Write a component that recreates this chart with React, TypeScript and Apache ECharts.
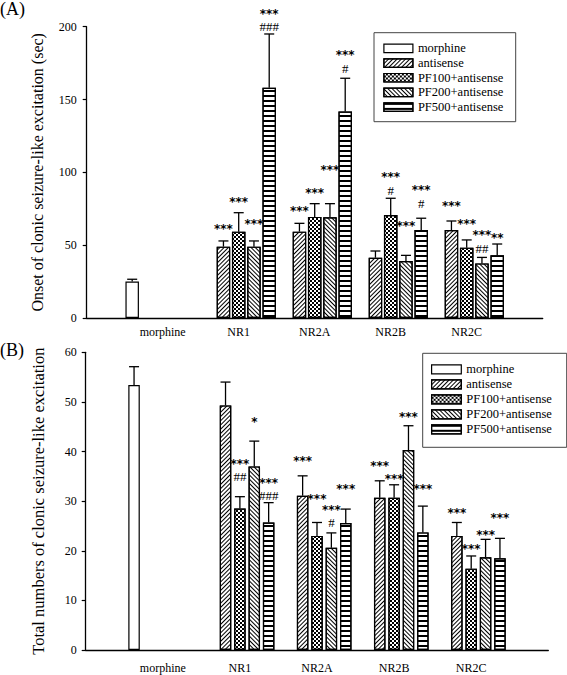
import React, { useEffect, useRef } from 'react';
import * as echarts from 'echarts';

// ---------- data ----------
const groups = ['morphine', 'NR1', 'NR2A', 'NR2B', 'NR2C'];
const seriesNames = ['morphine', 'antisense', 'PF100+antisense', 'PF200+antisense', 'PF500+antisense'];

// Panel A: onset of clonic seizure-like excitation (sec)
const onsetTicks = [0, 50, 100, 150, 200];
const onsetMorphine = [25.0, null, null, null, null];
const onsetAntisense = [null, 49.0, 59.3, 41.4, 60.4];
const onsetPF100 = [null, 59.3, 69.4, 70.7, 48.3];
const onsetPF200 = [null, 49.0, 69.2, 39.1, 37.5];
const onsetPF500 = [null, 158.1, 141.7, 60.4, 43.0];
const onsetErrMorphine = [1.6, null, null, null, null];
const onsetErrAntisense = [null, 3.9, 5.7, 4.6, 6.2];
const onsetErrPF100 = [null, 13.0, 9.1, 11.5, 5.3];
const onsetErrPF200 = [null, 3.9, 9.3, 3.9, 4.1];
const onsetErrPF500 = [null, 36.9, 22.9, 8.1, 7.8];
const onsetSigMorphine = ['', '', '', '', ''];
const onsetSigAntisense = ['', '***', '***', '', '***'];
const onsetSigPF100 = ['', '***', '***', '***\n#', '***'];
const onsetSigPF200 = ['', '***', '***', '***', '***\n##'];
const onsetSigPF500 = ['', '***\n###', '***\n#', '***\n#', '**'];

// Panel B: total numbers of clonic seizure-like excitation
const countTicks = [0, 10, 20, 30, 40, 50, 60];
const countMorphine = [53.4, null, null, null, null];
const countAntisense = [null, 49.3, 31.1, 30.7, 23.0];
const countPF100 = [null, 28.5, 23.0, 30.7, 16.4];
const countPF200 = [null, 37.0, 20.6, 40.3, 18.7];
const countPF500 = [null, 25.7, 25.6, 23.7, 18.5];
const countErrMorphine = [3.7, null, null, null, null];
const countErrAntisense = [null, 4.7, 4.0, 3.4, 2.7];
const countErrPF100 = [null, 2.4, 2.7, 2.6, 2.55];
const countErrPF200 = [null, 5.1, 3.0, 4.9, 3.6];
const countErrPF500 = [null, 4.0, 2.8, 5.3, 4.0];
const countSigMorphine = ['', '', '', '', ''];
const countSigAntisense = ['', '', '***', '***', '***'];
const countSigPF100 = ['', '***\n##', '***', '***', '***'];
const countSigPF200 = ['', '*', '***\n#', '***', '***'];
const countSigPF500 = ['', '***\n###', '***', '***', '***'];

// ---------- layout / styles ----------
// pixel lift of each significance label above its error-bar cap (layout only)
const onsetSigLift = [
  [0, 0, 0, 0, 0],
  [0, 14, 14, 0, 17],
  [0, 13, 13, 8, 18],
  [0, 19, 36, 31, 9],
  [0, 7, 10, 15, 8],
];
const countSigLift = [
  [0, 0, 0, 0, 0],
  [0, 0, 17, 17, 11],
  [0, 20, 25, 8, 9],
  [0, 21, 10, 11, 6],
  [0, 7, 22, 19, 22],
];

const SERIF = 'Liberation Serif';
const decals: any[] = [
  null,
  { symbol: 'rect', symbolSize: 1, dashArrayX: [1, 0], dashArrayY: [1, 1.6], rotation: -Math.PI / 4, color: '#000', backgroundColor: '#fff' },
  { symbol: 'rect', symbolSize: 1, dashArrayX: [[1.6, 1.6], [0, 1.6, 1.6, 0]], dashArrayY: [1.6, 0], color: '#000', backgroundColor: '#fff' },
  { symbol: 'rect', symbolSize: 1, dashArrayX: [1, 0], dashArrayY: [1, 1.6], rotation: Math.PI / 4, color: '#000', backgroundColor: '#fff' },
  { symbol: 'rect', symbolSize: 1, dashArrayX: [1, 0], dashArrayY: [1.2, 2.2], rotation: 0, color: '#000', backgroundColor: '#fff' },
];

const xCats = ['', ...groups, ''];

function padded(arr: (number | null)[]) {
  return [null, ...arr, null];
}

function buildPanel(
  idx: number,
  means: (number | null)[][],
  errs: (number | null)[][],
  sigs: string[][],
  lifts: number[][],
  barWidth: number,
  barGap: number,
) {
  const pitch = barWidth * (1 + barGap);
  const bars = means.map((m, k) => ({
    type: 'bar',
    name: seriesNames[k],
    xAxisIndex: idx,
    yAxisIndex: idx,
    data: padded(m),
    barWidth,
    barGap: `${barGap * 100}%`,
    itemStyle: {
      color: '#fff',
      borderColor: '#000',
      borderWidth: 1.2,
      ...(decals[k] ? { decal: decals[k] } : {}),
    },
    z: 2,
  }));
  const rows: number[][] = [];
  const labels: string[] = [];
  const liftList: number[] = [];
  means.forEach((m, k) => {
    m.forEach((v, g) => {
      if (v == null) return;
      rows.push([g + 1, k, v, errs[k][g] as number]);
      labels.push(sigs[k][g]);
      liftList.push(lifts[k][g]);
    });
  });
  const custom = {
    type: 'custom',
    name: 'err' + idx,
    xAxisIndex: idx,
    yAxisIndex: idx,
    encode: { x: 0, y: 2 },
    data: rows,
    z: 5,
    renderItem: (params: any, api: any) => {
      const cat = api.value(0);
      const slot = api.value(1);
      const v = api.value(2);
      const e = api.value(3);
      const p0 = api.coord([cat, v]);
      const p1 = api.coord([cat, v + e]);
      const x = p0[0] + (slot - 2) * pitch;
      const children: any[] = [
        { type: 'line', shape: { x1: x, y1: p0[1], x2: x, y2: p1[1] }, style: { stroke: '#000', lineWidth: 1.3 } },
        { type: 'line', shape: { x1: x - 5, y1: p1[1], x2: x + 5, y2: p1[1] }, style: { stroke: '#000', lineWidth: 1.3 } },
      ];
      const lines = (labels[params.dataIndex] || '').split('\n').filter((s) => s.length > 0);
      let y = p1[1] - liftList[params.dataIndex];
      for (let i = lines.length - 1; i >= 0; i--) {
        const t = lines[i];
        const star = t.indexOf('*') >= 0;
        children.push({
          type: 'text',
          x,
          y: star ? y + 2 : y,
          style: {
            text: t,
            fill: '#000',
            align: 'center',
            verticalAlign: 'middle',
            fontSize: star ? 12 : 13,
            fontWeight: star ? 'bold' : 'normal',
            fontFamily: star ? 'DejaVu Sans' : SERIF,
          },
        });
        y -= 15;
      }
      return { type: 'group', children };
    },
  };
  return [...bars, custom];
}

export default function App() {
  const ref = useRef<HTMLDivElement>(null);
  useEffect(() => {
    document.body.style.margin = '0';
    const chart = echarts.init(ref.current!, null, { renderer: 'svg' });
    const axisLine = { show: true, lineStyle: { color: '#000', width: 1.3 } };
    const legendBase = {
      data: seriesNames,
      orient: 'vertical',
      padding: 0,
      itemGap: 0,
      icon: 'rect',
      selectedMode: false,
      itemStyle: { borderColor: '#000', borderWidth: 1.2 },
    };
    const option: any = {
      animation: false,
      backgroundColor: '#fff',
      grid: [
        { left: 86.7, top: 26.7, width: 456, height: 291.3 },
        { left: 85.7, top: 352.3, width: 462.6, height: 297.7 },
      ],
      xAxis: [0, 1].map((i) => ({
        type: 'category',
        gridIndex: i,
        data: xCats,
        boundaryGap: false,
        axisLine,
        axisTick: { show: false },
        axisLabel: { interval: 0, color: '#000', fontFamily: SERIF, fontSize: 12, margin: i === 0 ? 8 : 12 },
        splitLine: { show: false },
      })),
      yAxis: [
        {
          type: 'value',
          gridIndex: 0,
          min: onsetTicks[0],
          max: onsetTicks[onsetTicks.length - 1],
          interval: onsetTicks[1] - onsetTicks[0],
          axisLine,
          axisTick: { show: true, length: 4, lineStyle: { color: '#000', width: 1.2 } },
          axisLabel: { color: '#000', fontFamily: SERIF, fontSize: 12, margin: 10 },
          splitLine: { show: false },
          name: 'Onset of clonic seizure-like excitation (sec)',
          nameLocation: 'middle',
          nameGap: 41,
          nameTextStyle: { color: '#000', fontFamily: SERIF, fontSize: 16 },
        },
        {
          type: 'value',
          gridIndex: 1,
          min: countTicks[0],
          max: countTicks[countTicks.length - 1],
          interval: countTicks[1] - countTicks[0],
          axisLine,
          axisTick: { show: true, length: 4, lineStyle: { color: '#000', width: 1.2 } },
          axisLabel: { color: '#000', fontFamily: SERIF, fontSize: 12, margin: 9 },
          splitLine: { show: false },
          name: 'Total numbers of clonic seizure-like excitation',
          nameLocation: 'middle',
          nameGap: 38.5,
          nameTextStyle: { color: '#000', fontFamily: SERIF, fontSize: 16.5 },
        },
      ],
      legend: [
        {
          ...legendBase,
          left: 383.3,
          top: 41,
          itemWidth: 29,
          itemHeight: 8.5,
          textStyle: { color: '#000', fontFamily: SERIF, fontSize: 12.5, lineHeight: 14.7 },
        },
        {
          ...legendBase,
          left: 431,
          top: 361.8,
          itemWidth: 29.7,
          itemHeight: 9,
          textStyle: { color: '#000', fontFamily: SERIF, fontSize: 12.5, lineHeight: 15 },
        },
      ],
      graphic: [
        { type: 'text', left: 0, top: 0, style: { text: '(A)', fill: '#000', fontFamily: SERIF, fontSize: 18 } },
        { type: 'text', left: 0, top: 341, style: { text: '(B)', fill: '#000', fontFamily: SERIF, fontSize: 18 } },
        { type: 'rect', shape: { x: 374, y: 32.7, width: 141.7, height: 89 }, style: { fill: 'none', stroke: '#444', lineWidth: 1 }, z: 10 },
        { type: 'rect', shape: { x: 422.7, y: 353.3, width: 144, height: 94 }, style: { fill: 'none', stroke: '#444', lineWidth: 1 }, z: 10 },
      ],
      series: [
        ...buildPanel(
          0,
          [onsetMorphine, onsetAntisense, onsetPF100, onsetPF200, onsetPF500],
          [onsetErrMorphine, onsetErrAntisense, onsetErrPF100, onsetErrPF200, onsetErrPF500],
          [onsetSigMorphine, onsetSigAntisense, onsetSigPF100, onsetSigPF200, onsetSigPF500],
          onsetSigLift,
          13.5,
          0.13,
        ),
        ...buildPanel(
          1,
          [countMorphine, countAntisense, countPF100, countPF200, countPF500],
          [countErrMorphine, countErrAntisense, countErrPF100, countErrPF200, countErrPF500],
          [countSigMorphine, countSigAntisense, countSigPF100, countSigPF200, countSigPF500],
          countSigLift,
          11.5,
          0.25,
        ),
      ],
    };
    chart.setOption(option);
    return () => chart.dispose();
  }, []);
  return <div ref={ref} style={{ position: 'absolute', left: 0, top: 0, width: 567, height: 675 }} />;
}
